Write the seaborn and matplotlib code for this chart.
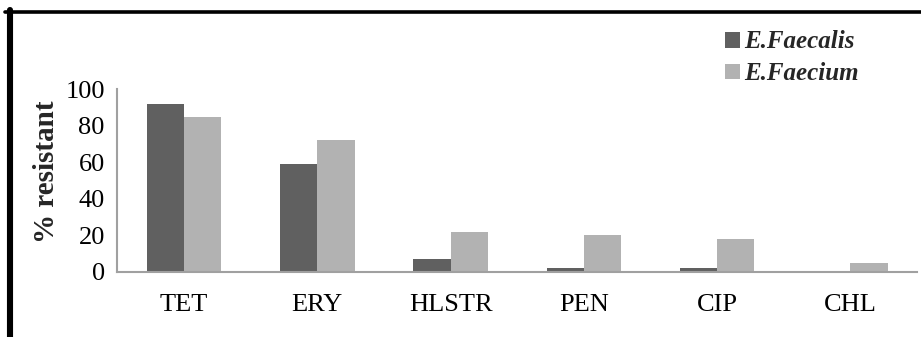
import pandas as pd
import matplotlib.pyplot as plt
import seaborn as sns
from matplotlib.lines import Line2D

antibiotics = ['TET', 'ERY', 'HLSTR', 'PEN', 'CIP', 'CHL']
faecalis = [92, 59, 7, 2, 2, 0]
faecium = [85, 72, 22, 20, 18, 5]
species = ['E.Faecalis', 'E.Faecium']
colors = ['#606060', '#b2b2b2']

data = pd.DataFrame({
    'antibiotic': antibiotics * 2,
    'resistant': faecalis + faecium,
    'species': [species[0]] * len(antibiotics) + [species[1]] * len(antibiotics),
})

sns.set_style('white')
plt.rcParams['font.family'] = ['Liberation Serif', 'DejaVu Serif']

fig = plt.figure(figsize=(9.21, 3.37), dpi=100)
ax = fig.add_axes([0.1274, 0.194, 0.8683, 0.541])

sns.barplot(data=data, x='antibiotic', y='resistant', hue='species',
            palette=colors, width=0.56, gap=0, saturation=1, ax=ax,
            edgecolor='none', linewidth=0)

ax.set_ylim(0, 100)
ax.set_xlim(-0.5, 5.5)
ax.set_yticks([0, 20, 40, 60, 80, 100])
ax.tick_params(axis='both', labelsize=19, length=0, colors='black')
ax.tick_params(axis='x', pad=16)
ax.tick_params(axis='y', pad=9)
ax.set_xlabel('')
ax.set_ylabel('')
for s in ['top', 'right']:
    ax.spines[s].set_visible(False)
for s in ['left', 'bottom']:
    ax.spines[s].set_color('#a0a0a0')
    ax.spines[s].set_linewidth(1.5)

fig.text(46.7 / 921, 1 - 172 / 337, '% resistant', rotation=90, fontsize=21,
         fontweight='bold', ha='center', va='center')

handles, labels = ax.get_legend_handles_labels()
ax.get_legend().remove()
leg = fig.legend(handles, labels, loc='upper left',
                 bbox_to_anchor=(702 / 921, 1 - 8 / 337),
                 frameon=False, handlelength=0.6, handleheight=0.6,
                 handletextpad=0.2, labelspacing=0.35,
                 prop={'size': 18, 'weight': 'bold', 'style': 'italic'})

# black frame around the chart (top and left edges visible)
fig.add_artist(Line2D([5 / 921, 1], [1 - 11.7 / 337, 1 - 11.7 / 337],
                      color='black', lw=2.6, transform=fig.transFigure))
fig.add_artist(Line2D([9.7 / 921, 9.7 / 921], [1 - 10 / 337, 0],
                      color='black', lw=4.4, transform=fig.transFigure))

fig.savefig('out.png', dpi=100)
